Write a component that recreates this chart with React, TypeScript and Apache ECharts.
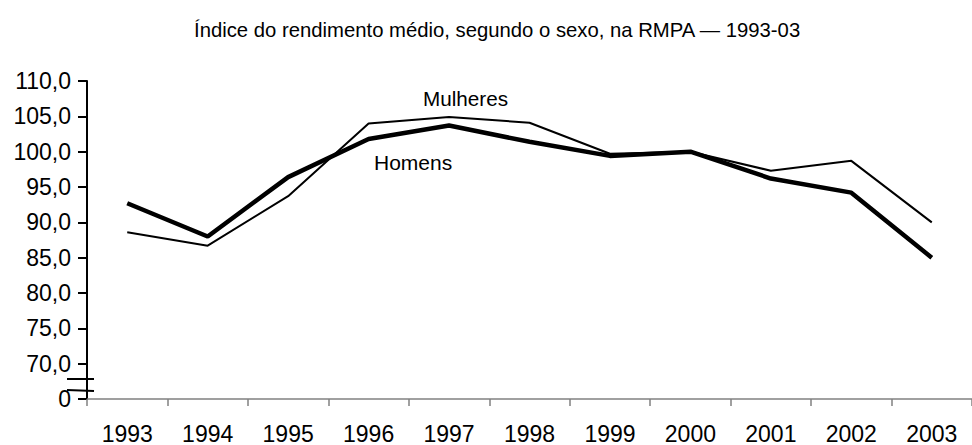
import React, { useEffect, useRef } from "react";
import * as echarts from "echarts";

const years = ["1993", "1994", "1995", "1996", "1997", "1998", "1999", "2000", "2001", "2002", "2003"];
const homens = [92.7, 88.0, 96.4, 101.8, 103.7, 101.4, 99.4, 100.0, 96.2, 94.2, 85.0];
const mulheres = [88.6, 86.7, 93.7, 104.0, 104.9, 104.1, 99.7, 100.0, 97.3, 98.7, 90.0];
const titleText = "Índice do rendimento médio, segundo o sexo, na RMPA — 1993-03";
const FONT = "Liberation Sans, Arial, sans-serif";

export default function App() {
  const ref = useRef<HTMLDivElement>(null);
  useEffect(() => {
    if (!ref.current) return;
    const chart = echarts.init(ref.current, undefined, { renderer: "svg" });
    chart.setOption({
      animation: false,
      backgroundColor: "#fff",
      title: {
        text: titleText,
        left: 189,
        top: 15,
        textStyle: { fontFamily: FONT, fontSize: 20.3, fontWeight: "normal", color: "#000" },
      },
      grid: { left: 87, right: -12, top: 81, bottom: 42, containLabel: false },
      xAxis: {
        type: "category",
        data: years,
        boundaryGap: true,
        axisLine: { lineStyle: { color: "#808080", width: 1.5 } },
        axisTick: { show: true, interval: 0, length: 7, lineStyle: { color: "#808080", width: 1.5 } },
        axisLabel: { color: "#000", fontFamily: FONT, fontSize: 23, margin: 23, interval: 0 },
      },
      yAxis: {
        type: "value",
        min: 65,
        max: 110,
        interval: 5,
        splitLine: { show: false },
        axisLine: { show: true, lineStyle: { color: "#000", width: 2 } },
        axisTick: { show: true, length: 9, lineStyle: { color: "#000", width: 2 } },
        axisLabel: {
          color: "#000",
          fontFamily: FONT,
          fontSize: 23,
          margin: 16,
          formatter: (v: number) => (v === 65 ? "0" : v.toFixed(1).replace(".", ",")),
        },
      },
      series: [
        {
          name: "Mulheres",
          type: "line",
          data: mulheres,
          symbol: "none",
          lineStyle: { color: "#000", width: 2 },
        },
        {
          name: "Homens",
          type: "line",
          data: homens,
          symbol: "none",
          lineStyle: { color: "#000", width: 4.5 },
        },
      ],
      graphic: [
        { type: "line", shape: { x1: 67, y1: 379, x2: 94, y2: 379 }, style: { stroke: "#000", lineWidth: 2 } },
        { type: "line", shape: { x1: 67, y1: 390, x2: 94, y2: 391 }, style: { stroke: "#000", lineWidth: 2 } },
        {
          type: "text",
          x: 423,
          y: 98,
          style: { text: "Mulheres", fontFamily: FONT, fontSize: 20.7, fill: "#000", verticalAlign: "middle" },
        },
        {
          type: "text",
          x: 374,
          y: 162,
          style: { text: "Homens", fontFamily: FONT, fontSize: 21, fill: "#000", verticalAlign: "middle" },
        },
      ],
    });
    return () => chart.dispose();
  }, []);
  return (
    <div
      ref={ref}
      style={{ position: "fixed", left: 0, top: 0, width: 972, height: 445 }}
    />
  );
}
